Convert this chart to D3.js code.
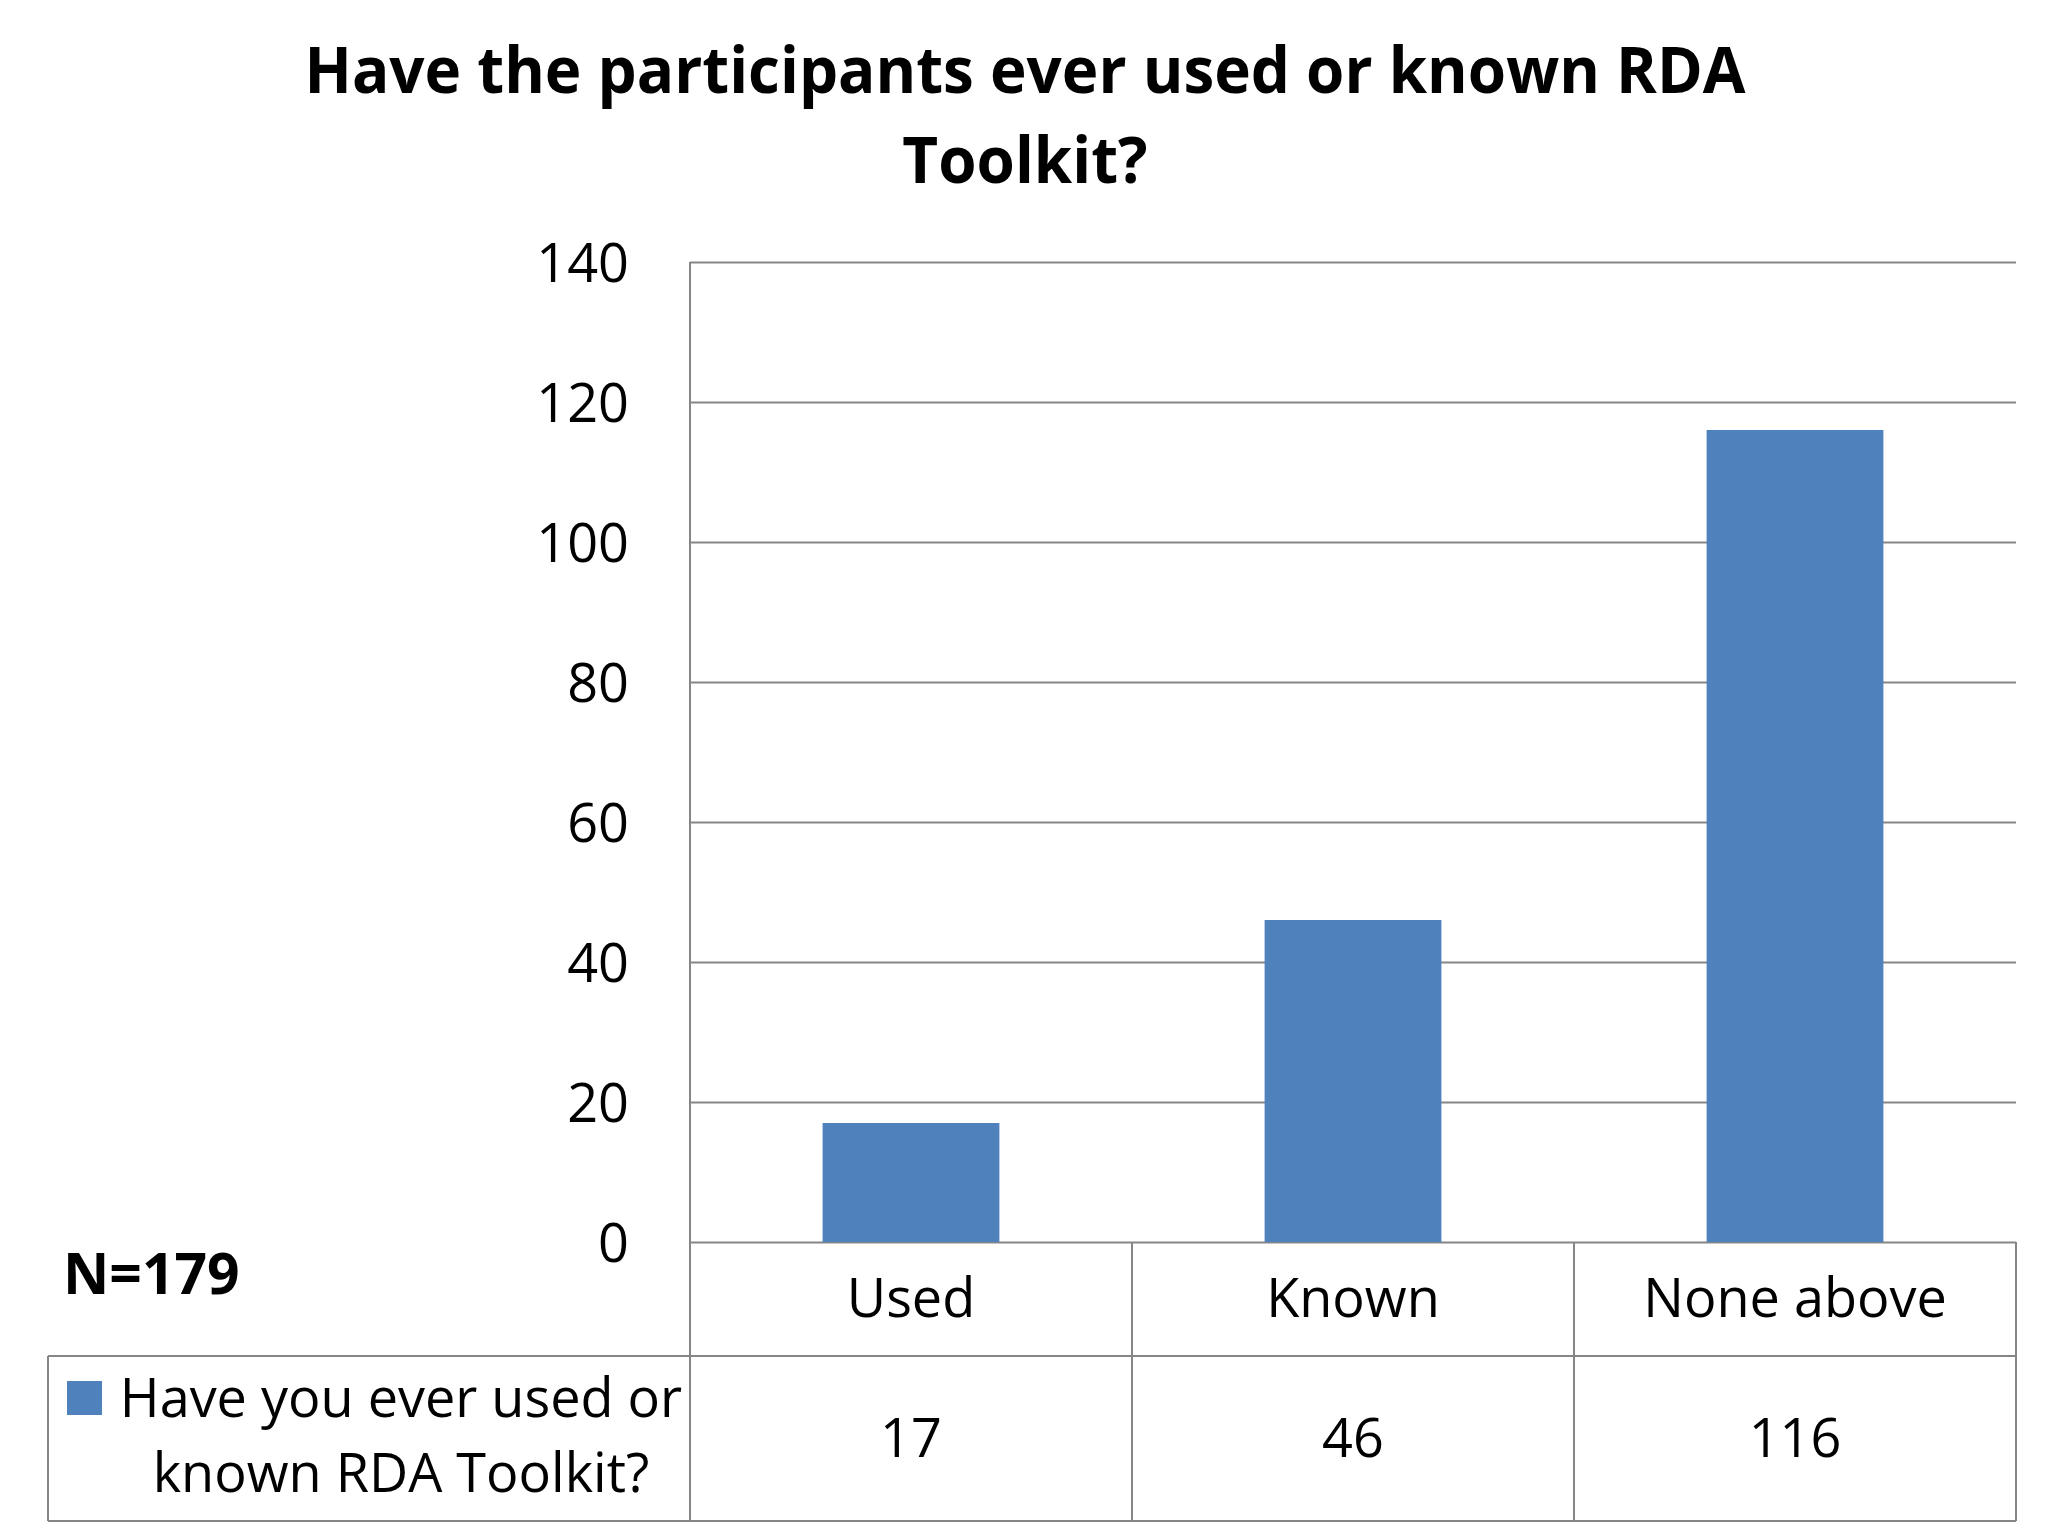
<!DOCTYPE html>
<html>
<head>
<meta charset="utf-8">
<script src="https://cdn.jsdelivr.net/npm/d3@7"></script>
<style>
  html, body { margin: 0; padding: 0; background: #fff; }
  text { font-family: "Open Sans", sans-serif; fill: #000; }
</style>
</head>
<body>
<div id="chart"></div>
<script>
const categories = ["Used", "Known", "None above"];
const counts = [17, 46, 116];
const yTicks = [0, 20, 40, 60, 80, 100, 120, 140];
const titleLines = ["Have the participants ever used or known RDA", "Toolkit?"];
const seriesLines = ["Have you ever used or", "known RDA Toolkit?"];
const nLabel = "N=179";

const W = 2048, H = 1536;
const plotLeft = 690, plotRight = 2016, plotTop = 262, plotBase = 1242;
const rowLine = 1356, tableBottom = 1521, legendLeft = 48;
const grid = "#868686", barColor = "#4F81BD";

const svg = d3.select("#chart").append("svg")
  .attr("width", W).attr("height", H);

const x = d3.scaleBand().domain(categories).range([plotLeft, plotRight]);
const y = d3.scaleLinear().domain([0, 140]).range([plotBase, plotTop]);

// gridlines
svg.append("g")
  .attr("transform", `translate(${plotLeft},0)`)
  .call(d3.axisLeft(y).tickValues(yTicks).tickSize(-(plotRight - plotLeft)).tickFormat(""))
  .call(g => g.select(".domain").remove())
  .call(g => g.selectAll("line").attr("stroke", grid).attr("stroke-width", 2));

// tick labels
svg.append("g")
  .attr("transform", `translate(${plotLeft},0)`)
  .call(d3.axisLeft(y).tickValues(yTicks).tickSize(0).tickPadding(61))
  .call(g => g.select(".domain").remove())
  .call(g => g.selectAll("text")
    .attr("font-family", "Open Sans").attr("font-size", 54).attr("dy", "0.36em"));

// bars
const bw = x.bandwidth();
svg.append("g").selectAll("rect")
  .data(counts).enter().append("rect")
  .attr("x", (d, i) => x(categories[i]) + bw * 0.3)
  .attr("width", bw * 0.4)
  .attr("y", d => y(d))
  .attr("height", d => y(0) - y(d))
  .attr("fill", barColor);

// data table lines
const lines = svg.append("g").attr("stroke", grid).attr("stroke-width", 2).attr("fill", "none");
lines.append("line").attr("x1", plotLeft).attr("x2", plotLeft).attr("y1", plotTop).attr("y2", tableBottom);
categories.forEach(c => {
  lines.append("line").attr("x1", x(c) + bw).attr("x2", x(c) + bw).attr("y1", plotBase).attr("y2", tableBottom);
});
lines.append("line").attr("x1", legendLeft).attr("x2", legendLeft).attr("y1", rowLine).attr("y2", tableBottom);
lines.append("line").attr("x1", legendLeft).attr("x2", plotRight).attr("y1", rowLine).attr("y2", rowLine);
lines.append("line").attr("x1", legendLeft).attr("x2", plotRight).attr("y1", tableBottom).attr("y2", tableBottom);

// category row
svg.append("g").selectAll("text")
  .data(categories).enter().append("text")
  .attr("x", d => x(d) + bw / 2).attr("y", 1317)
  .attr("text-anchor", "middle").attr("font-size", 54)
  .text(d => d);

// value row
svg.append("g").selectAll("text")
  .data(counts).enter().append("text")
  .attr("x", (d, i) => x(categories[i]) + bw / 2).attr("y", 1457)
  .attr("text-anchor", "middle").attr("font-size", 54)
  .text(d => d);

// legend key
svg.append("rect")
  .attr("x", 67).attr("y", 1381).attr("width", 35).attr("height", 34)
  .attr("fill", barColor);
svg.append("g").selectAll("text")
  .data(seriesLines).enter().append("text")
  .attr("x", 401).attr("y", (d, i) => 1417 + i * 75)
  .attr("text-anchor", "middle").attr("font-size", 54)
  .text(d => d);

// N label
svg.append("text")
  .attr("x", 63).attr("y", 1294)
  .attr("font-size", 57).attr("font-weight", "bold")
  .text(nLabel);

// title, squeezed to the reference width
const title = svg.append("g").selectAll("text")
  .data(titleLines).enter().append("text")
  .attr("x", 1025).attr("y", (d, i) => 93 + i * 90)
  .attr("text-anchor", "middle").attr("font-size", 64).attr("font-weight", "bold")
  .text(d => d);
const w0 = title.nodes()[0].getComputedTextLength();
const r = 1441 / w0;
title.each(function() {
  const w = this.getComputedTextLength();
  d3.select(this).attr("textLength", w * r).attr("lengthAdjust", "spacingAndGlyphs");
});
</script>
</body>
</html>
